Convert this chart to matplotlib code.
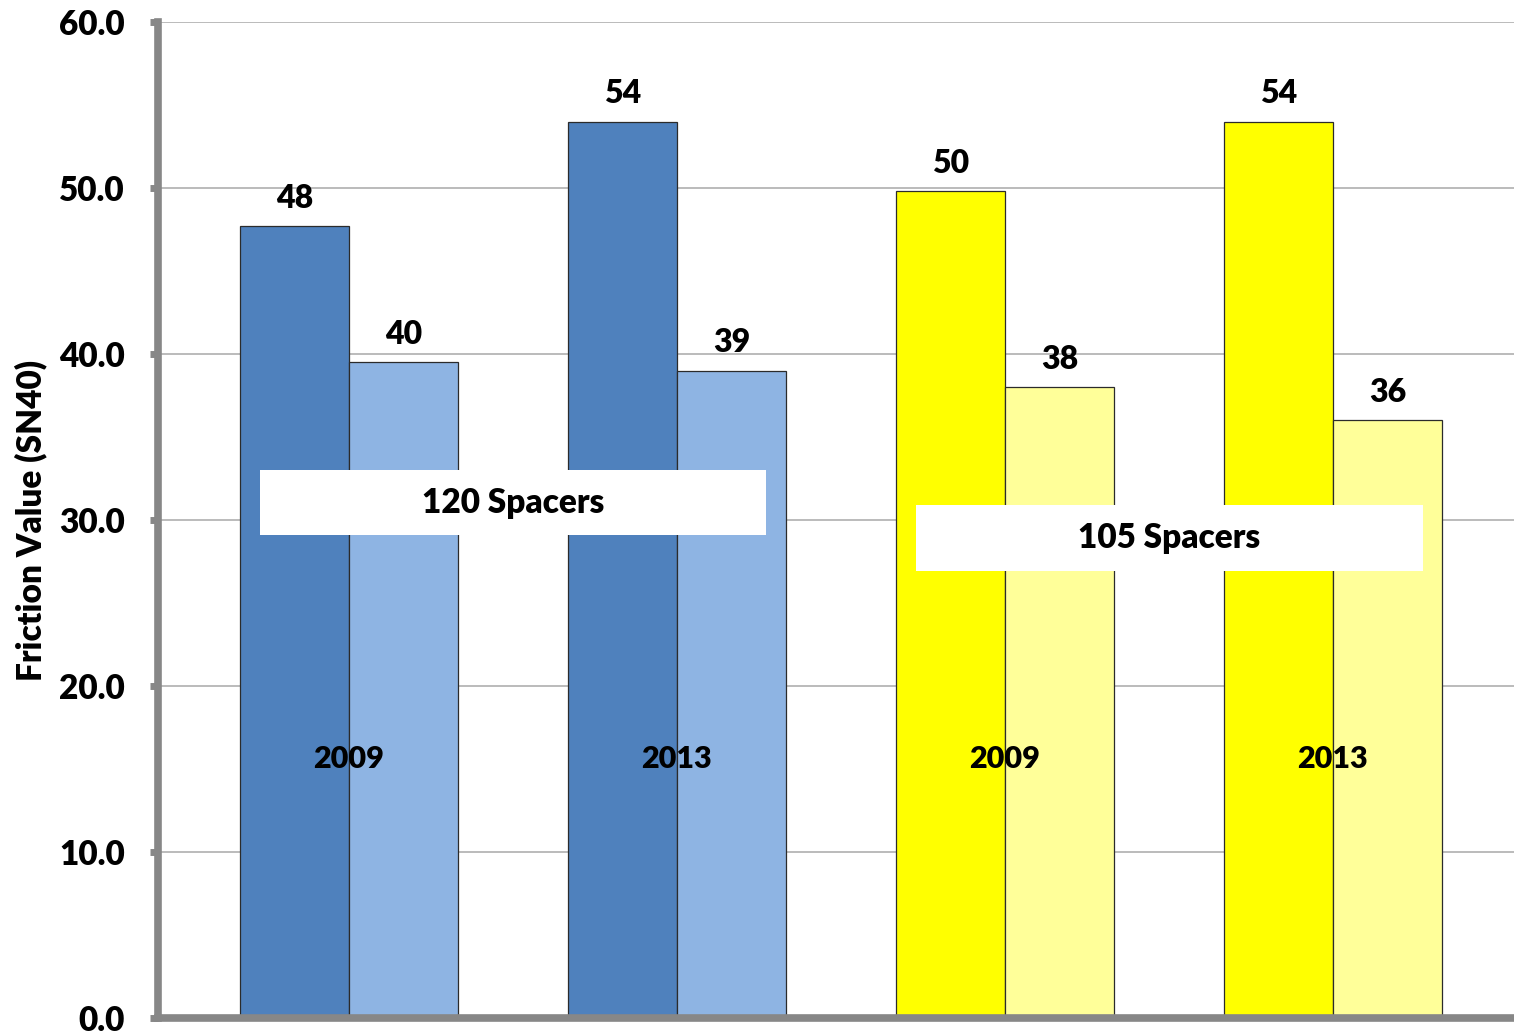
import numpy as np
import matplotlib.pyplot as plt
from matplotlib.patches import Rectangle

plt.rcParams['font.family'] = ['Lato', 'DejaVu Sans']

# Datos
years = ['2009', '2013', '2009', '2013']
before = [47.7, 54.0, 49.8, 54.0]
after = [39.5, 39.0, 38.0, 36.0]
before_labels = ['48', '54', '50', '54']
after_labels = ['40', '39', '38', '36']
groups = ['120 Spacers', '105 Spacers']

dark_cols = ['#4F81BD', '#4F81BD', '#FFFF00', '#FFFF00']
light_cols = ['#8EB4E3', '#8EB4E3', '#FFFF99', '#FFFF99']

x = np.arange(len(years))
w = 0.333
fw = 'heavy'

fig = plt.figure(figsize=(15.14, 10.31), dpi=100)
ax = fig.add_axes([158 / 1514, 13 / 1031, 1 - 158 / 1514, 996 / 1031])

ax.bar(x - w / 2, before, w, color=dark_cols, edgecolor='#2b2b2b', linewidth=0.9, zorder=2)
ax.bar(x + w / 2, after, w, color=light_cols, edgecolor='#2b2b2b', linewidth=0.9, zorder=2)

for i in range(len(years)):
    ax.annotate(before_labels[i], (x[i] - w / 2, before[i]), xytext=(0, 20),
                textcoords='offset points', ha='center', va='center', fontsize=23, fontweight=fw)
    ax.annotate(after_labels[i], (x[i] + w / 2, after[i]), xytext=(0, 20),
                textcoords='offset points', ha='center', va='center', fontsize=23, fontweight=fw)
    ax.text(x[i], 15.6, years[i], ha='center', va='center', fontsize=22, fontweight=fw, zorder=4)

# Cajas de grupo
boxes = [(-0.271, 29.1, 1.543, 3.9), (1.729, 26.9, 1.546, 4.0)]
for (bx, by, bw, bh), name in zip(boxes, groups):
    ax.add_patch(Rectangle((bx, by), bw, bh, facecolor='white', edgecolor='none', zorder=3))
    ax.text(bx + bw / 2, by + bh / 2, name, ha='center', va='center', fontsize=24,
            fontweight=fw, zorder=4)

ax.set_xlim(-0.582, 3.552)
ax.set_ylim(0, 60)
ax.set_yticks(np.arange(0, 61, 10))
ax.set_yticklabels([f'{v:.1f}' for v in np.arange(0, 61, 10)], fontsize=24, fontweight=fw)
ax.set_xticks([])
ax.set_ylabel('Friction Value (SN40)', fontsize=24, fontweight=fw, labelpad=8)

ax.yaxis.grid(True, color='#b5b5b5', linewidth=1.3, zorder=0)
ax.set_axisbelow(True)
for s in ['top', 'right']:
    ax.spines[s].set_visible(False)
for s in ['left', 'bottom']:
    ax.spines[s].set_color('#878787')
    ax.spines[s].set_linewidth(5.5)
ax.tick_params(axis='y', length=6, width=5, color='#878787', pad=18)

fig.savefig('out.png', dpi=100)
